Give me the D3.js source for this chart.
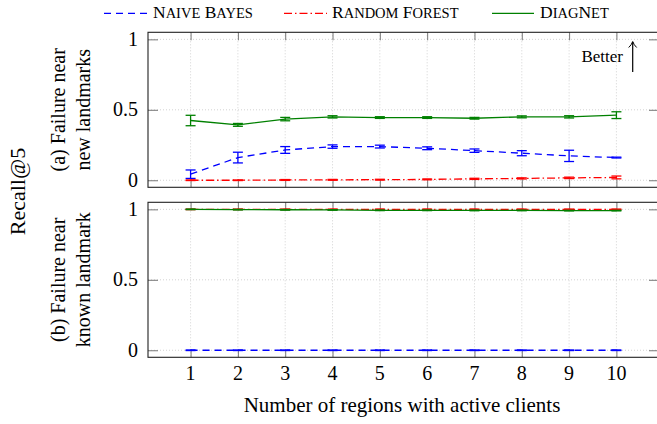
<!DOCTYPE html>
<html>
<head>
<meta charset="utf-8">
<script src="https://cdn.jsdelivr.net/npm/d3@7"></script>
<style>
  body { margin: 0; background: #fff; }
  #chart { display: block; }
  #xtitle { position: absolute; left: 197px; top: 395px; width: 410px; text-align: center;
            font-family: "Liberation Serif", serif; font-size: 21px; line-height: 21px; color: #000; }
</style>
</head>
<body>
<svg id="chart" width="657" height="424"></svg>
<div id="xtitle">Number of regions with active clients</div>
<script>
// x values
var regions = [1, 2, 3, 4, 5, 6, 7, 8, 9, 10];

// (a) failure near new landmarks
var nbNew     = [0.043, 0.161, 0.215, 0.239, 0.239, 0.227, 0.210, 0.192, 0.173, 0.161];
var nbNewErr  = [0.030, 0.038, 0.024, 0.012, 0.010, 0.010, 0.012, 0.018, 0.040, 0.003];
var rfNew     = [0.000, 0.000, 0.002, 0.003, 0.004, 0.006, 0.010, 0.013, 0.017, 0.020];
var rfNewErr  = [0.002, 0.002, 0.003, 0.003, 0.003, 0.003, 0.004, 0.004, 0.005, 0.010];
var dnNew     = [0.424, 0.393, 0.434, 0.450, 0.445, 0.445, 0.440, 0.450, 0.450, 0.462];
var dnNewErr  = [0.037, 0.010, 0.012, 0.008, 0.006, 0.006, 0.006, 0.007, 0.008, 0.024];

// (b) failure near known landmark
var nbKnown    = [0, 0, 0, 0, 0, 0, 0, 0, 0, 0];
var nbKnownErr = [0.002, 0.002, 0.002, 0.002, 0.002, 0.002, 0.002, 0.002, 0.002, 0.002];
var rfKnown    = [1.000, 1.000, 1.000, 1.000, 1.000, 1.000, 1.000, 1.000, 1.000, 1.000];
var rfKnownErr = [0.002, 0.002, 0.002, 0.002, 0.002, 0.002, 0.002, 0.002, 0.002, 0.002];
var dnKnown    = [1.000, 0.998, 0.997, 0.996, 0.993, 0.993, 0.992, 0.992, 0.991, 0.991];
var dnKnownErr = [0.002, 0.002, 0.002, 0.002, 0.002, 0.002, 0.002, 0.002, 0.002, 0.002];

var yTicks = [0, 0.5, 1];
var yTickLabels = ["0", "0.5", "1"];

var seriesNames = ["Naive Bayes", "Random Forest", "DiagNet"];
var seriesColors = ["#0000ff", "#ff0000", "#008000"];
var seriesDash = ["7,5", "8,3,1.5,3", null];

var svg = d3.select("#chart");

var left = 148, right = 659, panelH = 155;
var panelTops = [32.3, 202.3];

var x = d3.scaleLinear().domain([0.1, 10.9]).range([left, right]);

// every text gets the serif face directly
function addText(parent) {
    return parent.append("text").attr("font-family", "Liberation Serif").attr("fill", "#000");
}

function drawPanel(top, data, showXLabels) {
    var y = d3.scaleLinear().domain([-0.05, 1.05]).range([top + panelH, top]);
    var g = svg.append("g");

    // dotted grid
    g.selectAll(".gx").data(regions).enter().append("line")
        .attr("x1", function (d) { return x(d); }).attr("x2", function (d) { return x(d); })
        .attr("y1", top).attr("y2", top + panelH)
        .attr("stroke", "#c8c8c8").attr("stroke-width", 0.8).attr("stroke-dasharray", "1,2");
    g.selectAll(".gy").data(yTicks).enter().append("line")
        .attr("x1", left).attr("x2", right)
        .attr("y1", function (d) { return y(d); }).attr("y2", function (d) { return y(d); })
        .attr("stroke", "#c8c8c8").attr("stroke-width", 0.8).attr("stroke-dasharray", "1,2");

    // axes with inward ticks (labels drawn separately)
    var axL = g.append("g").attr("transform", "translate(" + left + ",0)")
        .call(d3.axisLeft(y).tickValues(yTicks).tickSizeInner(-10).tickSizeOuter(0).tickFormat(""));
    var axR = g.append("g").attr("transform", "translate(" + right + ",0)")
        .call(d3.axisRight(y).tickValues(yTicks).tickSizeInner(-10).tickSizeOuter(0).tickFormat(""));
    var axT = g.append("g").attr("transform", "translate(0," + top + ")")
        .call(d3.axisTop(x).tickValues(regions).tickSizeInner(-8).tickSizeOuter(0).tickFormat(""));
    var axB = g.append("g").attr("transform", "translate(0," + (top + panelH) + ")")
        .call(d3.axisBottom(x).tickValues(regions).tickSizeInner(-8).tickSizeOuter(0).tickFormat(""));
    [axL, axR, axT, axB].forEach(function (a) {
        a.attr("font-family", null).attr("font-size", null);
        a.select(".domain").remove();
        a.selectAll("text").remove();
        a.selectAll("line").attr("stroke", "#777").attr("stroke-width", 1);
    });

    yTicks.forEach(function (v, i) {
        addText(g).attr("x", left - 10).attr("y", y(v)).attr("dy", "0.33em")
            .attr("text-anchor", "end").attr("font-size", 20).text(yTickLabels[i]);
    });
    if (showXLabels) {
        regions.forEach(function (r) {
            addText(g).attr("x", x(r)).attr("y", top + panelH + 23).attr("text-anchor", "middle")
                .attr("font-size", 20).text(d3.format("d")(r));
        });
    }

    // series
    data.forEach(function (s, k) {
        var col = seriesColors[k];
        var line = d3.line().x(function (d, i) { return x(regions[i]); }).y(function (d) { return y(d); });
        g.append("path").datum(s.v).attr("d", line)
            .attr("fill", "none").attr("stroke", col).attr("stroke-width", 1.3)
            .attr("stroke-dasharray", seriesDash[k]);
        var eb = g.selectAll(".eb" + k).data(s.v).enter().append("g");
        eb.append("line")
            .attr("x1", function (d, i) { return x(regions[i]); }).attr("x2", function (d, i) { return x(regions[i]); })
            .attr("y1", function (d, i) { return y(d - s.e[i]); }).attr("y2", function (d, i) { return y(d + s.e[i]); })
            .attr("stroke", col).attr("stroke-width", 1.3);
        [-1, 1].forEach(function (sgn) {
            eb.append("line")
                .attr("x1", function (d, i) { return x(regions[i]) - 5; }).attr("x2", function (d, i) { return x(regions[i]) + 5; })
                .attr("y1", function (d, i) { return y(d + sgn * s.e[i]); }).attr("y2", function (d, i) { return y(d + sgn * s.e[i]); })
                .attr("stroke", col).attr("stroke-width", 1.3);
        });
    });

    // frame
    g.append("rect").attr("x", left).attr("y", top).attr("width", right - left).attr("height", panelH)
        .attr("fill", "none").attr("stroke", "#222").attr("stroke-width", 1.1);
    return y;
}

drawPanel(panelTops[0], [{ v: nbNew, e: nbNewErr }, { v: rfNew, e: rfNewErr }, { v: dnNew, e: dnNewErr }], false);
drawPanel(panelTops[1], [{ v: nbKnown, e: nbKnownErr }, { v: rfKnown, e: rfKnownErr }, { v: dnKnown, e: dnKnownErr }], true);

// y titles
addText(svg).attr("transform", "translate(25,191.5) rotate(-90)")
    .attr("text-anchor", "middle").attr("font-size", 22).text("Recall@5");
var panelLabels = [["(a) Failure near", "new landmarks"], ["(b) Failure near", "known landmark"]];
panelLabels.forEach(function (lines, p) {
    var cy = panelTops[p] + panelH / 2;
    lines.forEach(function (t, j) {
        addText(svg).attr("transform", "translate(" + (65 + j * 25) + "," + cy + ") rotate(-90)")
            .attr("text-anchor", "middle").attr("font-size", 20).text(t);
    });
});

// Better annotation
addText(svg).attr("x", 623).attr("y", 61.5).attr("text-anchor", "end")
    .attr("font-size", 17).text("Better");
svg.append("line").attr("x1", 632.7).attr("x2", 632.7).attr("y1", 72).attr("y2", 42)
    .attr("stroke", "#000").attr("stroke-width", 1.2);
svg.append("path").attr("d", "M628.7,47.5 Q631.5,45 632.7,41.5 Q633.9,45 636.7,47.5")
    .attr("fill", "none").attr("stroke", "#000").attr("stroke-width", 1);

// legend, small caps built from tspans
var legX = [[104, 148, 153], [284, 327, 332], [492, 534, 540]];
seriesNames.forEach(function (name, k) {
    svg.append("line").attr("x1", legX[k][0]).attr("x2", legX[k][1]).attr("y1", 13.3).attr("y2", 13.3)
        .attr("stroke", seriesColors[k]).attr("stroke-width", 1.3).attr("stroke-dasharray", seriesDash[k]);
    var t = addText(svg).attr("x", legX[k][2]).attr("y", 18.3);
    var runs = name.match(/[A-Z ]+|[a-z]+/g);
    runs.forEach(function (r) {
        var lower = /[a-z]/.test(r);
        t.append("tspan").attr("font-size", lower ? 14.5 : 17.5).text(lower ? r.toUpperCase() : r);
    });
});
</script>
</body>
</html>
